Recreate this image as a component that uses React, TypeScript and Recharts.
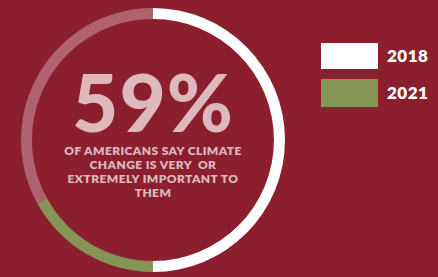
import React from "react";
import { PieChart, Pie, Cell, Legend } from "recharts";

const categories = ["2018", "2021", "rest"];
const values = [50, 17, 33];
const colors = ["#FFFFFF", "#859555", "#B0636E"];
const legendYears = ["2018", "2021"];
const headline = "59%";
const subtitleLines = [
  "OF AMERICANS SAY CLIMATE",
  "CHANGE IS VERY  OR",
  "EXTREMELY IMPORTANT TO",
  "THEM",
];

const data = categories.map((c, i) => ({ name: c, value: values[i] }));

const BG = "#8C1F2D";
const TEXT = "#DDB9BE";

const LegendContent = () => (
  <div style={{ fontFamily: "Lato, sans-serif" }}>
    {legendYears.map((y, i) => (
      <div key={y} style={{ display: "flex", alignItems: "center", height: 37 }}>
        <div
          style={{
            width: 57,
            height: i === 0 ? 26 : 28,
            background: colors[i],
            marginRight: 9,
          }}
        />
        <span style={{ color: "#FFFFFF", fontWeight: 800, fontSize: 17, letterSpacing: 0.5 }}>{y}</span>
      </div>
    ))}
  </div>
);

export default function App() {
  return (
    <div style={{ position: "absolute", left: 0, top: 0, width: 438, height: 277, background: BG, overflow: "hidden" }}>
      <PieChart width={438} height={277} margin={{ top: 0, right: 0, bottom: 0, left: 0 }}>
        <Pie
          data={data}
          dataKey="value"
          nameKey="name"
          cx={153}
          cy={140}
          outerRadius={132}
          innerRadius={121}
          startAngle={90}
          endAngle={-270}
          stroke="none"
          isAnimationActive={false}
        >
          {data.map((d, i) => (
            <Cell key={d.name} fill={colors[i]} />
          ))}
        </Pie>
        <Legend
          layout="vertical"
          align="right"
          verticalAlign="top"
          content={LegendContent}
          wrapperStyle={{ left: 321, top: 37, width: 117 }}
        />
      </PieChart>
      <div
        style={{
          position: "absolute",
          left: 43,
          width: 220,
          top: 65,
          textAlign: "center",
          color: TEXT,
          fontFamily: "Lato, sans-serif",
          fontWeight: 900,
          fontSize: 80,
          lineHeight: "72px",
          letterSpacing: 1,
        }}
      >
        {headline}
      </div>
      <div
        style={{
          position: "absolute",
          left: 43,
          width: 220,
          top: 144,
          textAlign: "center",
          color: TEXT,
          fontFamily: "Lato, sans-serif",
          fontWeight: 800,
          fontSize: 12,
          letterSpacing: 0.4,
          lineHeight: "14px",
          whiteSpace: "pre",
        }}
      >
        {subtitleLines.map((l) => (
          <div key={l}>{l}</div>
        ))}
      </div>
    </div>
  );
}
